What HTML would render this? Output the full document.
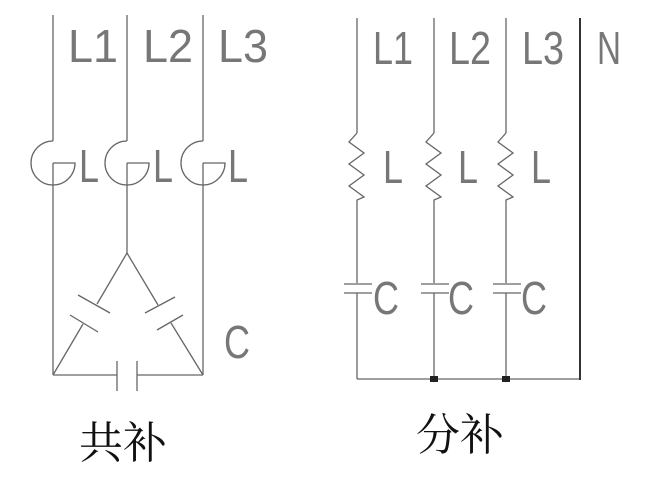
<!DOCTYPE html>
<html><head><meta charset="utf-8"><style>
html,body{margin:0;padding:0;background:#fff;}
svg{display:block}
text{font-family:"Liberation Sans",sans-serif;fill:#777;font-weight:normal}
.cn{font-family:"Liberation Serif","Noto Serif CJK SC",serif;fill:#111}
</style></head><body>
<svg width="660" height="497" viewBox="0 0 660 497" xmlns="http://www.w3.org/2000/svg">
<g stroke="#666" stroke-width="1.3" fill="none">
<line x1="53" y1="15" x2="53" y2="141"/>
<line x1="127" y1="15" x2="127" y2="141"/>
<line x1="203" y1="15" x2="203" y2="141"/>
<path d="M53 141 A22 22 0 1 0 75 163 L53 163"/>
<path d="M127 141 A22 22 0 1 0 149 163 L127 163"/>
<path d="M203 141 A22 22 0 1 0 225 163 L203 163"/>
<line x1="53" y1="163" x2="53" y2="375"/>
<line x1="127" y1="163" x2="127" y2="253"/>
<line x1="203" y1="163" x2="203" y2="375"/>
<line x1="127" y1="253" x2="97" y2="304"/>
<line x1="78" y1="295" x2="110" y2="313"/>
<line x1="70" y1="315" x2="98" y2="332"/>
<line x1="83" y1="324" x2="53" y2="375"/>
<line x1="127" y1="253" x2="158" y2="305"/>
<line x1="145" y1="313" x2="175" y2="297"/>
<line x1="157" y1="330" x2="183" y2="315"/>
<line x1="171" y1="323" x2="203" y2="375"/>
<line x1="53" y1="375" x2="117" y2="375"/>
<line x1="117" y1="361" x2="117" y2="391"/>
<line x1="137" y1="361" x2="137" y2="391"/>
<line x1="137" y1="375" x2="203" y2="375"/>
<line x1="357" y1="18" x2="357" y2="133"/>
<line x1="434" y1="18" x2="434" y2="133"/>
<line x1="506" y1="18" x2="506" y2="133"/>
<path d="M357 133 L349 142 L364 153 L349 164 L364 175 L349 186 L364 197 L357 200 L357 283"/>
<path d="M434 133 L426 142 L441 153 L426 164 L441 175 L426 186 L441 197 L434 200 L434 283"/>
<path d="M506 133 L498 142 L513 153 L498 164 L513 175 L498 186 L513 197 L506 200 L506 283"/>
<line x1="344" y1="284" x2="372" y2="284"/><line x1="344" y1="293" x2="372" y2="293"/>
<line x1="421" y1="284" x2="449" y2="284"/><line x1="421" y1="293" x2="449" y2="293"/>
<line x1="493" y1="284" x2="521" y2="284"/><line x1="493" y1="293" x2="521" y2="293"/>
<line x1="357" y1="293" x2="357" y2="379"/>
<line x1="434" y1="293" x2="434" y2="379"/>
<line x1="506" y1="293" x2="506" y2="379"/>
<line x1="357" y1="379" x2="581" y2="379"/>
</g>
<line x1="580" y1="18" x2="580" y2="380" stroke="#333" stroke-width="2"/>
<rect x="430" y="376" width="8" height="6" fill="#222"/>
<rect x="502" y="376" width="8" height="6" fill="#222"/>
<g font-size="46">
<text x="68" y="62" textLength="50" lengthAdjust="spacingAndGlyphs">L1</text>
<text x="143" y="62" textLength="50" lengthAdjust="spacingAndGlyphs">L2</text>
<text x="218" y="62" textLength="50" lengthAdjust="spacingAndGlyphs">L3</text>
<text x="373" y="64" textLength="40" lengthAdjust="spacingAndGlyphs">L1</text>
<text x="449" y="64" textLength="42" lengthAdjust="spacingAndGlyphs">L2</text>
<text x="522" y="64" textLength="42" lengthAdjust="spacingAndGlyphs">L3</text>
<text x="597" y="64" textLength="24" lengthAdjust="spacingAndGlyphs">N</text>
<text x="79" y="182" textLength="20" lengthAdjust="spacingAndGlyphs">L</text>
<text x="153" y="182" textLength="20" lengthAdjust="spacingAndGlyphs">L</text>
<text x="228" y="182" textLength="20" lengthAdjust="spacingAndGlyphs">L</text>
<text x="383" y="183" textLength="20" lengthAdjust="spacingAndGlyphs">L</text>
<text x="458" y="183" textLength="20" lengthAdjust="spacingAndGlyphs">L</text>
<text x="531" y="183" textLength="20" lengthAdjust="spacingAndGlyphs">L</text>
<text x="373" y="314" textLength="26" lengthAdjust="spacingAndGlyphs">C</text>
<text x="448" y="314" textLength="26" lengthAdjust="spacingAndGlyphs">C</text>
<text x="521" y="314" textLength="26" lengthAdjust="spacingAndGlyphs">C</text>
<text x="224" y="358" textLength="26" lengthAdjust="spacingAndGlyphs">C</text>
</g>
<text class="cn" x="79" y="458" font-size="44">共补</text>
<text class="cn" x="416" y="450" font-size="44">分补</text>
</svg>
</body></html>
